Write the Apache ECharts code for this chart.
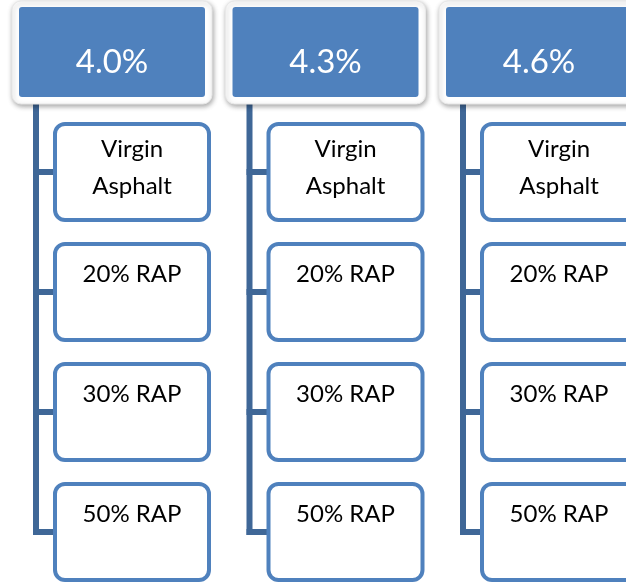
<!DOCTYPE html>
<html>
<head>
<meta charset="utf-8">
<script src="https://cdn.jsdelivr.net/npm/echarts@6/dist/echarts.min.js"></script>
<style>
  html, body { margin: 0; padding: 0; background: #fff; }
  #chart { width: 626px; height: 584px; }
</style>
</head>
<body>
<div id="chart"></div>
<script>
// binder content levels (columns) and mixes (rows under each)
const binderContents = ['4.0%', '4.3%', '4.6%'];
const mixes = ['Virgin\nAsphalt', '20% RAP', '30% RAP', '50% RAP'];

const FONT = 'Lato, "Open Sans", sans-serif';
const BLUE = '#4F81BD';
const LINE = '#3F6797';

// one item per column / per (column,row) pair
const headerData = binderContents.map((_, i) => [i, 0]);
const childData = [];
binderContents.forEach((_, i) => {
    mixes.forEach((_, j) => childData.push([i, j]));
});

const chart = echarts.init(document.getElementById('chart'));

function renderHeader(params, api) {
    const p = api.coord([api.value(0), api.value(1)]);
    const x = p[0], y = p[1] - 115;
    return {
        type: 'group',
        children: [
            {
                type: 'rect',
                shape: { x: x - 7, y: y - 6, width: 200, height: 103, r: 9 },
                style: {
                    fill: '#fff', stroke: '#e8e8e8', lineWidth: 1,
                    shadowBlur: 5, shadowColor: 'rgba(0,0,0,0.35)', shadowOffsetX: 1, shadowOffsetY: 2
                }
            },
            {
                type: 'rect',
                shape: { x: x, y: y, width: 186, height: 90, r: 3 },
                style: { fill: BLUE }
            },
            {
                type: 'text',
                x: x + 93, y: y + 55,
                style: {
                    text: binderContents[api.value(0)], fill: '#fff',
                    fontSize: 33, fontFamily: FONT, align: 'center', verticalAlign: 'middle'
                }
            }
        ]
    };
}

function renderConnector(params, api) {
    const top = api.coord([api.value(0), 0]);
    const last = api.coord([api.value(0), mixes.length - 1]);
    const lx = top[0] + 17;
    const kids = [{
        type: 'line',
        shape: { x1: lx, y1: top[1] - 19, x2: lx, y2: last[1] + 53 },
        style: { stroke: LINE, lineWidth: 6 }
    }];
    mixes.forEach((_, j) => {
        const r = api.coord([api.value(0), j]);
        kids.push({
            type: 'line',
            shape: { x1: lx - 3, y1: r[1] + 50, x2: top[0] + 37, y2: r[1] + 50 },
            style: { stroke: LINE, lineWidth: 6 }
        });
    });
    return { type: 'group', children: kids };
}

function renderChild(params, api) {
    const p = api.coord([api.value(0), api.value(1)]);
    const x = p[0], y = p[1];
    const label = mixes[api.value(1)];
    // two-line labels sit a bit higher in the box
    const pad = label.indexOf('\n') >= 0 ? 9 : 14;
    return {
        type: 'group',
        children: [
            {
                type: 'rect',
                shape: { x: x + 36, y: y + 2, width: 154, height: 96, r: 10 },
                style: { fill: '#fff', stroke: BLUE, lineWidth: 4 }
            },
            {
                type: 'text',
                x: x + 113, y: y + pad,
                style: {
                    text: label, fill: '#000',
                    fontSize: 24, fontFamily: FONT, align: 'center', verticalAlign: 'top', lineHeight: 37
                }
            }
        ]
    };
}

chart.setOption({
    animation: false,
    backgroundColor: '#fff',
    grid: { left: 19, top: 122, width: 640.5, height: 480, outerBoundsMode: 'none', containLabel: false },
    xAxis: { type: 'value', min: 0, max: 3, show: false },
    yAxis: { type: 'value', min: 0, max: 4, inverse: true, show: false },
    series: [
        { type: 'custom', data: headerData, renderItem: renderConnector, z: 1 },
        { type: 'custom', data: childData, renderItem: renderChild, z: 2 },
        { type: 'custom', data: headerData, renderItem: renderHeader, z: 3 }
    ]
});
</script>
</body>
</html>
